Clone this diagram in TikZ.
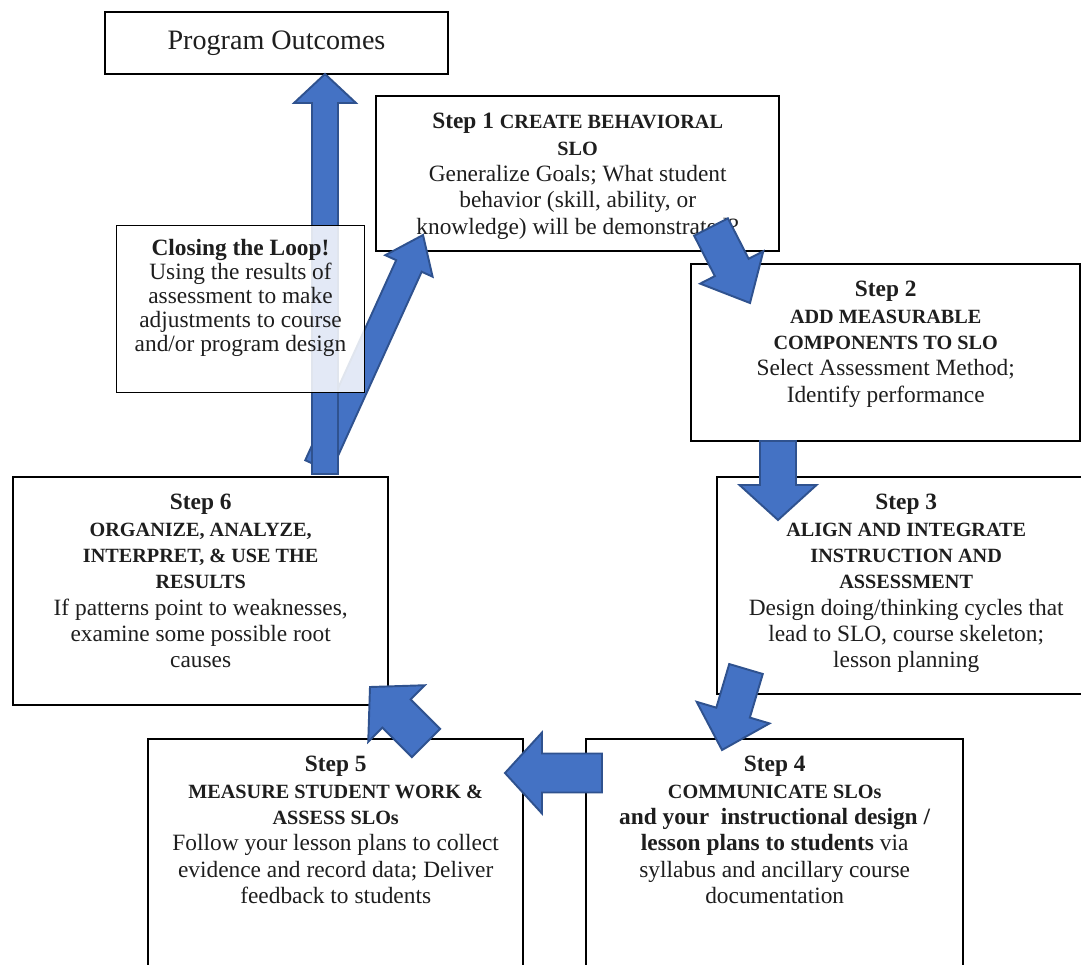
\documentclass[tikz,border=0pt]{standalone}
\usepackage{fontspec}
\setmainfont{Liberation Serif}
\usetikzlibrary{calc}

\definecolor{arrowblue}{HTML}{4472C4}
\definecolor{arrowedge}{HTML}{2F528F}
\definecolor{ink}{HTML}{1E1E1E}

\tikzset{
  outbox/.style={draw, line width=1.2pt, fill=white, minimum width=6.86cm, minimum height=1.24cm,
    text=ink, font=\fontsize{16}{18}\selectfont},
  stepbox/.style={draw, line width=1.4pt, fill=white, inner sep=0pt, anchor=north west,
    text=ink, font=\fontsize{13.3}{15}\selectfont},
  loopbox/.style={draw, line width=0.6pt, fill=white, fill opacity=0.85, text opacity=1,
    inner sep=0pt, anchor=north west, text=ink, font=\fontsize{13.3}{13.6}\selectfont},
  blockarrow/.style={fill=arrowblue, draw=arrowedge, line width=1.1pt, line join=miter}
}

% caps headline
\newcommand{\hd}[1]{{\fontsize{11.5}{15}\selectfont\textbf{#1}}}
% box text: width, height, lines
\newcommand{\inbox}[3]{\parbox[t][#2][t]{#1}{\centering\rule{0pt}{18.5pt}#3}}
% block arrow: tail, tip, half shaft, half head, head length
\newcommand{\bigarrow}[5]{%
  \path ($(#2)!#5!(#1)$) coordinate (hb);
  \filldraw[blockarrow] ($(#1)!#3!90:(#2)$) -- ($(hb)!#3!-90:(#1)$) -- ($(hb)!#4!-90:(#1)$)
    -- (#2) -- ($(hb)!#4!90:(#1)$) -- ($(hb)!#3!90:(#1)$) -- ($(#1)!#3!-90:(#2)$) -- cycle;
}

\begin{document}
\begin{tikzpicture}[x=0.02cm, y=-0.02cm]
  \clip (0,0) rectangle (1081,964);

  % boxes
  \node[outbox] (po) at (276.5,43) {Program Outcomes};
  \node[stepbox] (s1) at (375,95) {\inbox{8.06cm}{3.10cm}{%
    \textbf{Step 1} \hd{CREATE BEHAVIORAL}\\ \hd{SLO}\\
    Generalize Goals; What student\\ behavior (skill, ability, or\\
    knowledge) will be demonstrated?}};
  \node[stepbox] (s2) at (690,263) {\inbox{7.78cm}{3.54cm}{%
    \textbf{Step 2}\\ \hd{ADD MEASURABLE}\\ \hd{COMPONENTS TO SLO}\\
    Select Assessment Method;\\ Identify performance}};
  \node[stepbox] (s3) at (716,476) {\inbox{7.56cm}{4.34cm}{%
    \textbf{Step 3}\\ \hd{ALIGN AND INTEGRATE}\\ \hd{INSTRUCTION AND}\\ \hd{ASSESSMENT}\\
    Design doing/thinking cycles that\\ lead to SLO, course skeleton;\\ lesson planning}};
  \node[stepbox] (s4) at (585,738) {\inbox{7.54cm}{5.40cm}{%
    \textbf{Step 4}\\ \hd{COMMUNICATE SLOs}\\
    \textbf{and your\ \ instructional design /}\\ \textbf{lesson plans to students} via\\
    syllabus and ancillary course\\ documentation}};
  \node[stepbox] (s5) at (147,738) {\inbox{7.50cm}{5.40cm}{%
    \textbf{Step 5}\\ \hd{MEASURE STUDENT WORK \&}\\ \hd{ASSESS SLOs}\\
    Follow your lesson plans to collect\\ evidence and record data; Deliver\\
    feedback to students}};
  \node[stepbox] (s6) at (12,476) {\inbox{7.50cm}{4.56cm}{%
    \textbf{Step 6}\\ \hd{ORGANIZE, ANALYZE,}\\ \hd{INTERPRET, \& USE THE}\\ \hd{RESULTS}\\
    If patterns point to weaknesses,\\ examine some possible root\\ causes}};

  % arrow ends
  \coordinate (a61t) at (318,466);  \coordinate (a61h) at (423,235);
  \coordinate (a6pt) at (325,474);  \coordinate (a6ph) at (325,74);
  \coordinate (a12t) at (711,227);  \coordinate (a12h) at (750,303);
  \coordinate (a23t) at (778,441);  \coordinate (a23h) at (778,520);
  \coordinate (a34t) at (746,669);  \coordinate (a34h) at (722,750);
  \coordinate (a45t) at (602,773);  \coordinate (a45h) at (505,773);
  \coordinate (a56t) at (426,743);  \coordinate (a56h) at (370,687);

  \bigarrow{a61t}{a61h}{0.28cm}{0.52cm}{0.68cm}
  \bigarrow{a6pt}{a6ph}{0.26cm}{0.62cm}{0.58cm}
  \bigarrow{a12t}{a12h}{0.38cm}{0.71cm}{0.80cm}
  \bigarrow{a23t}{a23h}{0.36cm}{0.77cm}{0.70cm}
  \bigarrow{a34t}{a34h}{0.35cm}{0.76cm}{0.78cm}
  \bigarrow{a45t}{a45h}{0.39cm}{0.81cm}{0.74cm}
  \bigarrow{a56t}{a56h}{0.40cm}{0.80cm}{0.75cm}

  % closing the loop
  \node[loopbox] (loop) at (116,225) {\parbox[t][3.34cm][t]{4.96cm}{\centering\rule{0pt}{17.3pt}%
    \textbf{Closing the Loop!}\\ Using the results of\\ assessment to make\\
    adjustments to course\\ and/or program design}};
\end{tikzpicture}
\end{document}
